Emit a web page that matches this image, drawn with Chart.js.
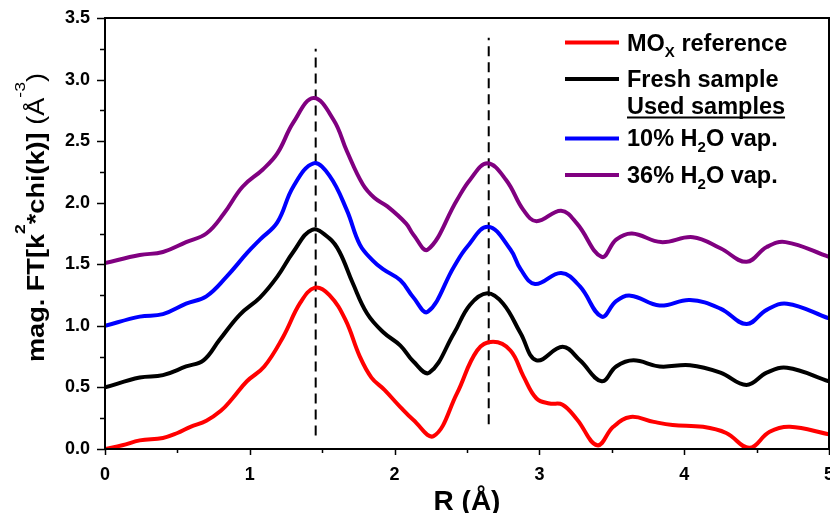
<!DOCTYPE html>
<html>
<head>
<meta charset="utf-8">
<script src="https://cdn.jsdelivr.net/npm/chart.js@4.4.1/dist/chart.umd.min.js"></script>
<style>
html,body{margin:0;padding:0;background:#fff;}
#wrap{width:830px;height:513px;position:relative;}
</style>
</head>
<body>
<div id="wrap"><canvas id="c" width="830" height="513"></canvas></div>
<script>
// ---------- DATA ----------
const rMOx = [0, 0.12, 0.24, 0.40, 0.50, 0.59, 0.70, 0.80, 0.88, 0.98, 1.10, 1.23, 1.35, 1.45, 1.55, 1.66, 1.76, 1.84, 1.93, 2.04, 2.13, 2.27, 2.43, 2.57, 2.68, 2.80, 2.89, 2.98, 3.07, 3.16, 3.26, 3.40, 3.51, 3.63, 3.79, 3.92, 4.13, 4.29, 4.45, 4.59, 4.73, 5.0];
const yMOx = [0, 0.03, 0.07, 0.09, 0.13, 0.18, 0.23, 0.31, 0.41, 0.55, 0.67, 0.91, 1.19, 1.31, 1.25, 1.05, 0.75, 0.58, 0.48, 0.34, 0.235, 0.105, 0.45, 0.80, 0.87, 0.80, 0.59, 0.41, 0.37, 0.36, 0.24, 0.03, 0.18, 0.26, 0.22, 0.195, 0.18, 0.13, 0.01, 0.14, 0.18, 0.12];

const rFresh = [0, 0.24, 0.40, 0.56, 0.68, 0.79, 0.93, 1.07, 1.19, 1.30, 1.43, 1.55, 1.62, 1.71, 1.81, 1.92, 2.04, 2.13, 2.24, 2.41, 2.52, 2.64, 2.75, 2.87, 2.98, 3.16, 3.28, 3.43, 3.53, 3.65, 3.83, 4.04, 4.25, 4.43, 4.57, 4.71, 5.0];
const yFresh = [0.50, 0.58, 0.60, 0.67, 0.72, 0.885, 1.09, 1.23, 1.40, 1.60, 1.78, 1.71, 1.60, 1.35, 1.10, 0.95, 0.84, 0.71, 0.62, 0.94, 1.17, 1.265, 1.18, 0.94, 0.72, 0.83, 0.72, 0.55, 0.67, 0.72, 0.67, 0.68, 0.62, 0.52, 0.62, 0.66, 0.55];

const rUsed10 = [0, 0.24, 0.40, 0.56, 0.70, 0.84, 0.98, 1.07, 1.19, 1.30, 1.44, 1.55, 1.67, 1.76, 1.85, 1.92, 2.04, 2.13, 2.23, 2.41, 2.50, 2.645, 2.80, 2.87, 2.97, 3.15, 3.28, 3.43, 3.53, 3.63, 3.83, 4.04, 4.25, 4.43, 4.57, 4.71, 5.0];
const yUsed10 = [1.0, 1.075, 1.095, 1.18, 1.24, 1.40, 1.59, 1.70, 1.84, 2.13, 2.32, 2.22, 1.94, 1.66, 1.53, 1.46, 1.37, 1.23, 1.115, 1.48, 1.64, 1.805, 1.62, 1.46, 1.34, 1.43, 1.32, 1.075, 1.20, 1.245, 1.165, 1.21, 1.14, 1.015, 1.13, 1.18, 1.06];

const rUsed36 = [0, 0.24, 0.40, 0.56, 0.70, 0.82, 0.95, 1.09, 1.19, 1.30, 1.44, 1.58, 1.67, 1.78, 1.86, 1.95, 2.08, 2.13, 2.23, 2.43, 2.52, 2.64, 2.77, 2.89, 2.98, 3.15, 3.26, 3.43, 3.53, 3.64, 3.84, 4.06, 4.25, 4.43, 4.57, 4.70, 5.0];
const yUsed36 = [1.51, 1.575, 1.60, 1.68, 1.75, 1.91, 2.13, 2.27, 2.40, 2.65, 2.85, 2.67, 2.42, 2.15, 2.04, 1.97, 1.83, 1.74, 1.62, 2.02, 2.185, 2.32, 2.185, 1.94, 1.85, 1.935, 1.83, 1.56, 1.70, 1.75, 1.68, 1.72, 1.63, 1.52, 1.64, 1.68, 1.56];

// reference positions (dashed vertical markers): R value, bottom, top
const markerR = [1.455, 2.65];
const markerBottom = [0.11, 0.20];
const markerTop = [3.25, 3.34];

const seriesColors = ['#FF0000', '#000000', '#0000FF', '#800080'];
// legend labels: [main, subscript, rest]
const legendLabels = [
  ['MO', 'X', ' reference'],
  ['Fresh sample', '', ''],
  ['10% H', '2', 'O vap.'],
  ['36% H', '2', 'O vap.']
];
const legendHeading = 'Used samples';

const xMin = 0, xMax = 5, xMajor = 1, xMinor = 0.5;
const yMin = 0, yMax = 3.5, yMajor = 0.5, yMinor = 0.25;
const xTitle = 'R (Å)';
const yTitleParts = ['mag. FT[k', '2', '*chi(k)] ', '(Å', '-3', ')'];

// ---------- BUILD ----------
const zip = (xs, ys) => xs.map((x, i) => ({x: x, y: ys[i]}));
const FONT = '"Liberation Sans", Arial, Helvetica, sans-serif';

function lineDS(data, color) {
  return {data: data, borderColor: color, backgroundColor: color, borderWidth: 4,
    pointRadius: 0, tension: 0.4, fill: false, borderJoinStyle: 'round', borderCapStyle: 'round'};
}
const datasets = [
  lineDS(zip(rMOx, yMOx), seriesColors[0]),
  lineDS(zip(rFresh, yFresh), seriesColors[1]),
  lineDS(zip(rUsed10, yUsed10), seriesColors[2]),
  lineDS(zip(rUsed36, yUsed36), seriesColors[3])
];
markerR.forEach((r, i) => {
  datasets.push({data: [{x: r, y: markerBottom[i]}, {x: r, y: markerTop[i]}],
    borderColor: '#000', borderWidth: 2, borderDash: [10, 6], pointRadius: 0, tension: 0, fill: false});
});

const decor = {
  id: 'decor',
  afterDraw(chart) {
    const ctx = chart.ctx;
    const {left, right, top, bottom} = chart.chartArea;
    const xs = chart.scales.x, ys = chart.scales.y;
    ctx.save();
    // frame
    ctx.strokeStyle = '#000';
    ctx.lineWidth = 2;
    ctx.strokeRect(left, top, right - left, bottom - top);
    // ticks
    ctx.lineWidth = 1.5;
    ctx.beginPath();
    for (let k = 0; yMin + k * yMinor <= yMax + 1e-9; k++) {
      const v = yMin + k * yMinor;
      const major = Math.abs(v / yMajor - Math.round(v / yMajor)) < 1e-6;
      const py = Math.round(ys.getPixelForValue(v)) + 0.5;
      ctx.moveTo(left - (major ? 8 : 5), py); ctx.lineTo(left, py);
    }
    for (let k = 0; xMin + k * xMinor <= xMax + 1e-9; k++) {
      const v = xMin + k * xMinor;
      const major = Math.abs(v / xMajor - Math.round(v / xMajor)) < 1e-6;
      const px = Math.round(xs.getPixelForValue(v)) + 0.5;
      ctx.moveTo(px, bottom); ctx.lineTo(px, bottom + (major ? 6 : 4));
    }
    ctx.stroke();

    ctx.fillStyle = '#000';
    ctx.textBaseline = 'alphabetic';
    // x title
    ctx.font = 'bold 28px ' + FONT;
    ctx.textAlign = 'center';
    ctx.fillText(xTitle, (left + right) / 2, 510);

    // y title (rotated, with superscripts)
    ctx.textAlign = 'left';
    const parts = [
      {t: yTitleParts[0], f: 'bold 23px ' + FONT, dy: 0},
      {t: yTitleParts[1], f: 'bold 15px ' + FONT, dy: -19},
      {t: yTitleParts[2], f: 'bold 23px ' + FONT, dy: 0},
      {t: yTitleParts[3], f: '23px ' + FONT, dy: 0},
      {t: yTitleParts[4], f: '15px ' + FONT, dy: -19},
      {t: yTitleParts[5], f: '23px ' + FONT, dy: 0}
    ];
    let tw = 0;
    parts.forEach(p => { ctx.font = p.f; p.w = ctx.measureText(p.t).width; tw += p.w; });
    const targetLen = 289;
    ctx.save();
    ctx.translate(44, 217.5);
    ctx.rotate(-Math.PI / 2);
    ctx.scale(targetLen / tw, 1);
    let cx = -tw / 2;
    parts.forEach(p => { ctx.font = p.f; ctx.fillText(p.t, cx, p.dy); cx += p.w; });
    ctx.restore();

    // legend
    const rows = [
      {idx: 0, lineY: 42.5, base: 51},
      {idx: 1, lineY: 79, base: 86.5},
      {idx: 2, lineY: 138.5, base: 146},
      {idx: 3, lineY: 175, base: 183}
    ];
    const lx0 = 565, lx1 = 619, tx = 627;
    const lf = 'bold 23.5px ' + FONT;
    rows.forEach(r => {
      ctx.strokeStyle = seriesColors[r.idx];
      ctx.lineWidth = 4;
      ctx.beginPath(); ctx.moveTo(lx0, r.lineY); ctx.lineTo(lx1, r.lineY); ctx.stroke();
      const lab = legendLabels[r.idx];
      let x = tx;
      ctx.fillStyle = '#000';
      ctx.font = lf;
      ctx.fillText(lab[0], x, r.base); x += ctx.measureText(lab[0]).width;
      if (lab[1]) {
        ctx.font = 'bold 15px ' + FONT;
        ctx.fillText(lab[1], x, r.base + 6); x += ctx.measureText(lab[1]).width;
      }
      if (lab[2]) {
        ctx.font = lf;
        ctx.fillText(lab[2], x, r.base);
      }
    });
    // heading "Used samples" (underlined)
    ctx.font = lf;
    ctx.fillStyle = '#000';
    ctx.fillText(legendHeading, tx, 114);
    const hw = ctx.measureText(legendHeading).width;
    ctx.fillRect(tx, 116.5, hw, 2);
    ctx.restore();
  }
};

function noPad(s) { s.paddingLeft = 0; s.paddingRight = 0; s.paddingTop = 0; s.paddingBottom = 0; }

new Chart(document.getElementById('c'), {
  type: 'line',
  data: {datasets: datasets},
  options: {
    responsive: false,
    animation: false,
    layout: {padding: {left: 0, top: 18, right: 1, bottom: 0}},
    plugins: {legend: {display: false}, tooltip: {enabled: false}},
    scales: {
      x: {
        type: 'linear', min: xMin, max: xMax,
        grid: {display: false, drawTicks: false},
        border: {display: false},
        ticks: {stepSize: xMajor, padding: 15, color: '#000', maxRotation: 0,
          font: {family: FONT, size: 18, weight: 'bold'},
          callback: v => String(v)},
        afterFit: s => { s.height = 64; noPad(s); }
      },
      y: {
        type: 'linear', min: yMin, max: yMax,
        grid: {display: false, drawTicks: false},
        border: {display: false},
        ticks: {stepSize: yMajor, padding: 15, color: '#000',
          font: {family: FONT, size: 18, weight: 'bold'},
          callback: v => Number(v).toFixed(1)},
        afterFit: s => { s.width = 105; noPad(s); }
      }
    }
  },
  plugins: [decor]
});
</script>
</body>
</html>
